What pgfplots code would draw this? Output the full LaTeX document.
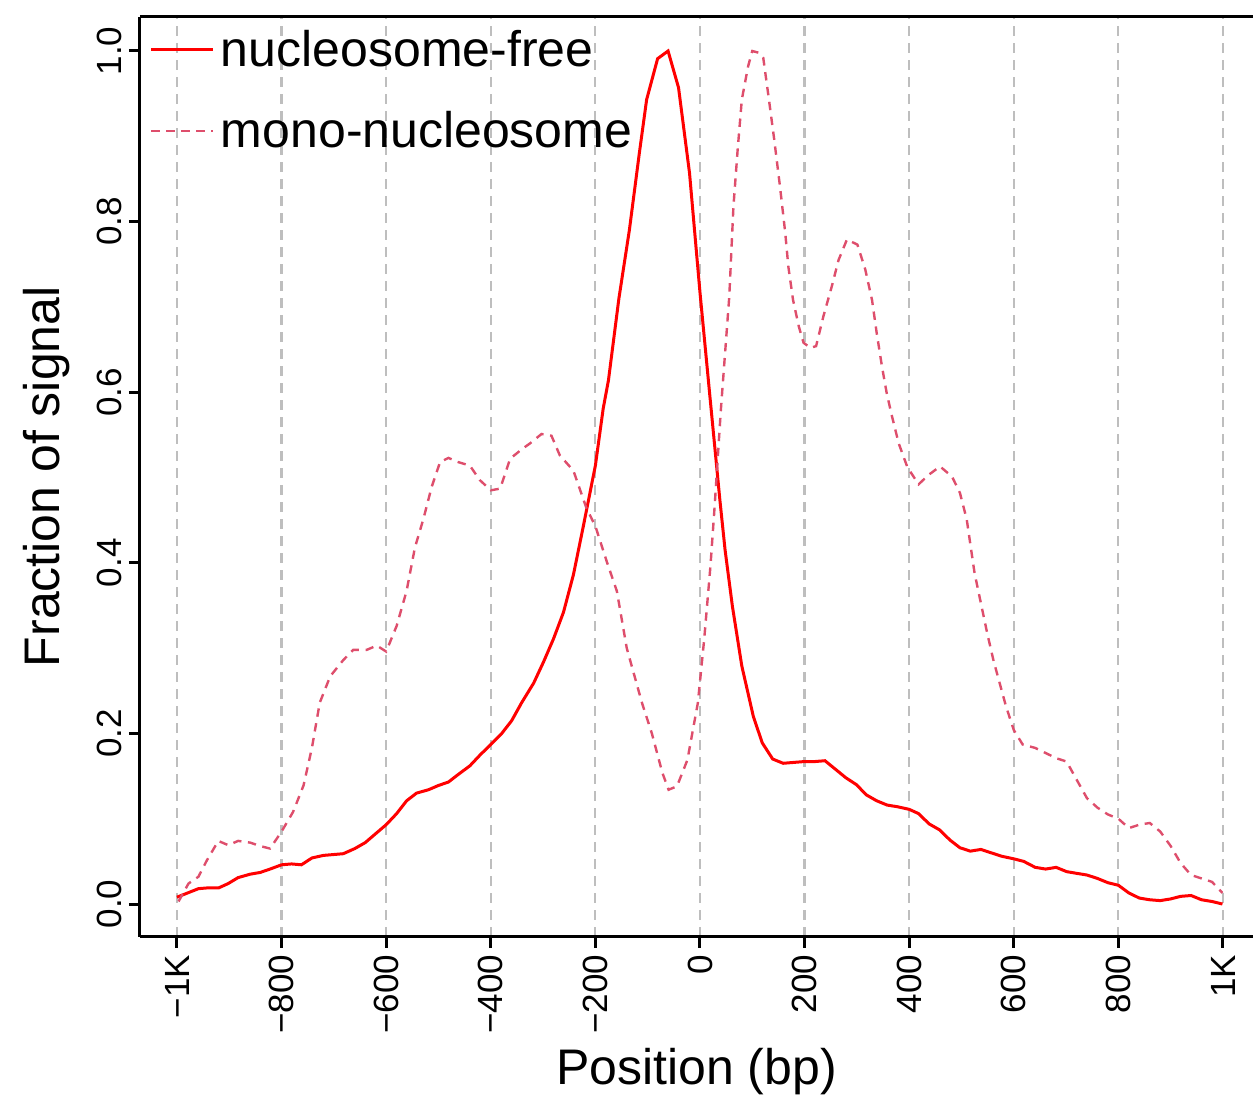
\documentclass[border=0pt]{standalone}
\usepackage{pgfplots}
\pgfplotsset{compat=1.18}
\usepackage{fontspec}
\setmainfont{Liberation Sans}
\definecolor{nfree}{RGB}{255,0,0}
\definecolor{mono}{RGB}{222,78,108}
\definecolor{gridgray}{RGB}{190,190,190}
\begin{document}
\begin{tikzpicture}
\begin{axis}[
  scale only axis, width=556.5pt, height=460pt,
  xmin=-1070.7, xmax=1057.4, ymin=-0.0383, ymax=1.0402,
  axis x line*=box, axis y line*=left,
  axis line style={line width=1.5pt, black},
  xtick={-1000,-800,-600,-400,-200,0,200,400,600,800,1000},
  xticklabels={−1K,−800,−600,−400,−200,0,200,400,600,800,1K},
  ytick={0,0.2,0.4,0.6,0.8,1.0},
  yticklabels={0.0,0.2,0.4,0.6,0.8,1.0},
  xtick pos=left, ytick pos=left,
  tick align=outside, major tick length=5.5pt,
  tick style={line width=1.5pt, black},
  tick label style={font=\fontsize{17.5}{20}\selectfont},
  xticklabel style={rotate=90, anchor=east},
  yticklabel style={rotate=90, anchor=south},
  xmajorgrids,
  grid style={gridgray, line width=1.1pt, dash pattern=on 5pt off 3.5pt},
  xlabel={Position (bp)}, ylabel={Fraction of signal},
  every axis x label/.style={at={(axis description cs:0.5,-0.1467)}, anchor=center, font=\fontsize{25}{30}\selectfont},
  every axis y label/.style={at={(axis description cs:-0.0836,0.5)}, rotate=90, anchor=center, font=\fontsize{25}{30}\selectfont},
  legend style={at={(axis description cs:0,1)}, anchor=north west, xshift=5pt, yshift=-6.65pt,
    draw=none, fill=none, inner sep=0pt, outer sep=0pt,
    nodes={inner sep=0pt, font=\fontsize{25}{30}\selectfont},
    row sep=21pt, column sep=3pt},
  legend cell align=left,
  legend image code/.code={\draw[#1] (0pt,0pt) -- (31pt,0pt);},
]
\addplot[nfree, line width=1.5pt] coordinates {
(-1000,0.008) (-959,0.018) (-940,0.019) (-920,0.019) (-902,0.024) (-883,0.031)
(-860,0.035) (-841,0.037) (-822,0.041) (-800,0.046) (-781,0.047) (-762,0.046)
(-742,0.054) (-720,0.057) (-682,0.059) (-660,0.065) (-640,0.072) (-621,0.082)
(-600,0.093) (-580,0.106) (-561,0.121) (-542,0.130) (-519,0.134) (-500,0.139)
(-481,0.143) (-462,0.152) (-440,0.162) (-420,0.175) (-400,0.187) (-379,0.200)
(-360,0.215) (-341,0.236) (-318,0.259) (-299,0.284) (-280,0.311) (-261,0.342)
(-242,0.386) (-223,0.443) (-200,0.514) (-185,0.581) (-175,0.614) (-155,0.710)
(-135,0.790) (-116,0.880) (-102,0.943) (-81,0.991) (-61,1.000) (-41,0.957)
(-20,0.857) (0,0.717) (19,0.595) (38,0.474) (48,0.415) (62,0.349) (80,0.279)
(102,0.220) (119,0.189) (139,0.170) (159,0.165) (179,0.166) (199,0.167)
(219,0.167) (239,0.168) (259,0.158) (279,0.148) (299,0.140) (318,0.128)
(338,0.121) (358,0.116) (378,0.114) (400,0.111) (418,0.106) (438,0.094)
(458,0.087) (478,0.075) (497,0.066) (517,0.062) (537,0.064) (557,0.060)
(577,0.056) (600,0.053) (619,0.050) (641,0.043) (661,0.041) (681,0.043)
(701,0.038) (720,0.036) (740,0.034) (760,0.030) (780,0.025) (800,0.022)
(820,0.013) (840,0.007) (860,0.005) (880,0.004) (900,0.006) (919,0.009)
(939,0.010) (959,0.005) (979,0.003) (999,0.000)
};
\addlegendentry{nucleosome-free}
\addplot[mono, line width=1.2pt, dash pattern=on 4.2pt off 3.3pt] coordinates {
(-997,0.003) (-978,0.024) (-959,0.032) (-943,0.051) (-921,0.074) (-902,0.069)
(-883,0.074) (-860,0.072) (-841,0.068) (-822,0.065) (-800,0.085) (-778,0.108)
(-758,0.139) (-742,0.183) (-727,0.236) (-707,0.267) (-682,0.286) (-663,0.298)
(-637,0.298) (-618,0.303) (-600,0.296) (-580,0.326) (-561,0.367) (-545,0.418)
(-529,0.451) (-513,0.489) (-497,0.518) (-481,0.523) (-462,0.518) (-440,0.514)
(-421,0.497) (-400,0.485) (-382,0.487) (-363,0.522) (-341,0.533) (-325,0.540)
(-303,0.551) (-284,0.549) (-268,0.526) (-242,0.508) (-217,0.464) (-200,0.443)
(-178,0.401) (-159,0.367) (-140,0.300) (-111,0.236) (-92,0.200) (-72,0.154)
(-60,0.134) (-44,0.138) (-24,0.169) (-4,0.236) (8,0.310) (20,0.396) (28,0.466)
(40,0.580) (56,0.712) (64,0.818) (72,0.884) (80,0.943) (92,0.982) (100,1.000)
(112,0.998) (121,0.992) (131,0.947) (142,0.896) (153,0.841) (163,0.787)
(169,0.747) (178,0.708) (189,0.677) (198,0.658) (211,0.652) (222,0.654)
(236,0.689) (252,0.724) (265,0.755) (281,0.779) (301,0.773) (316,0.744)
(329,0.708) (338,0.669) (348,0.630) (357,0.599) (367,0.572) (380,0.540)
(396,0.513) (402,0.507) (418,0.492) (437,0.503) (459,0.513) (482,0.501)
(497,0.482) (510,0.451) (525,0.388) (537,0.353) (549,0.318) (561,0.286)
(573,0.259) (585,0.232) (600,0.204) (617,0.187) (641,0.183) (661,0.177)
(681,0.171) (701,0.167) (720,0.146) (740,0.124) (760,0.113) (780,0.105)
(800,0.100) (820,0.089) (840,0.093) (860,0.095) (880,0.085) (900,0.068)
(919,0.048) (939,0.034) (959,0.030) (979,0.026) (999,0.013)
};
\addlegendentry{mono-nucleosome}
\coordinate (ll) at (rel axis cs:0,0);
\coordinate (ur) at (rel axis cs:1,1);
\end{axis}
\pgfresetboundingbox
\path[use as bounding box] ([shift={(-70pt,-81pt)}]ll) rectangle ([shift={(0pt,8.35pt)}]ur);
\end{tikzpicture}
\end{document}
